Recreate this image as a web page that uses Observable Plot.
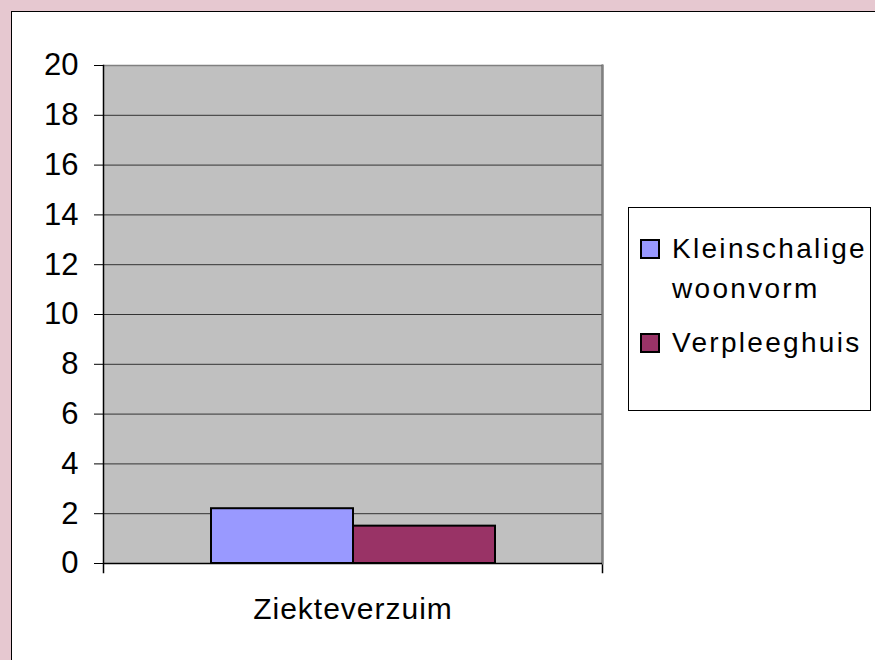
<!DOCTYPE html>
<html>
<head>
<meta charset="utf-8">
<script src="https://cdn.jsdelivr.net/npm/d3@7"></script>
<script src="https://cdn.jsdelivr.net/npm/@observablehq/plot@0.6"></script>
<style>
  html, body { margin: 0; padding: 0; }
  body { width: 875px; height: 660px; background: #E6C8D0; position: relative; overflow: hidden; font-family: "Liberation Sans", Arial, sans-serif; }
  #frame { position: absolute; left: 11px; top: 11px; width: 900px; height: 700px; background: #fff; border-left: 1px solid #000; border-top: 1px solid #000; }
  #chart { position: absolute; left: 0; top: 0; }
  #legend { position: absolute; left: 628px; top: 207px; width: 243px; height: 204px; box-sizing: border-box; border: 1px solid #000; background: #fff; }
  .item { position: absolute; left: 11px; display: flex; align-items: flex-start; }
  .sw { width: 16px; height: 16px; border: 2px solid #000; margin-top: 10px; margin-right: 12px; flex: none; }
  .lab { font-size: 28px; line-height: 40px; letter-spacing: 2.3px; color: #000; }
</style>
</head>
<body>
<div id="frame"></div>
<div id="chart"></div>
<div id="legend"></div>
<script>
const categories = ["Ziekteverzuim"];
const series = ["Kleinschalige woonvorm", "Verpleeghuis"];
const seriesLabels = [["Kleinschalige", "woonvorm"], ["Verpleeghuis"]];
const values = [2.2, 1.5];
const colors = ["#9999FF", "#993366"];
const yTicks = [0, 2, 4, 6, 8, 10, 12, 14, 16, 18, 20];

const data = series.map((s, i) => ({category: categories[0], series: s, value: values[i]}));
const font = '"Liberation Sans", Arial, sans-serif';

const plot = Plot.plot({
  width: 875,
  height: 660,
  marginLeft: 103,
  marginRight: 273,
  marginTop: 65,
  marginBottom: 97,
  style: {background: "transparent", fontFamily: font, fontSize: "31px", color: "#000", overflow: "visible"},
  fx: {domain: categories, padding: 0, label: null, axis: null},
  x: {domain: series, paddingInner: 0, paddingOuter: 0.745, axis: null},
  y: {domain: [0, 20], ticks: yTicks, label: null, axis: null},
  color: {domain: series, range: colors},
  marks: [
    Plot.frame({fill: "#C0C0C0", stroke: null}),
    Plot.ruleY(yTicks.filter(d => d > 0 && d < 20), {stroke: "#333", strokeWidth: 1}),
    Plot.ruleY([20], {stroke: "#808080", strokeWidth: 1.5}),
    Plot.frame({anchor: "right", stroke: "#000", strokeWidth: 1.5, insetBottom: -9}),
    Plot.frame({anchor: "right", stroke: "#808080", strokeWidth: 2}),
    Plot.frame({anchor: "left", stroke: "#000", strokeWidth: 1.5, insetBottom: -9}),
    Plot.axisY({ticks: yTicks, tickSize: 9, tickPadding: 16, tickFormat: d => String(d), fontSize: 31, label: null, stroke: "#000"}),
    Plot.axisFx({tickSize: 0, tickPadding: 34, fontSize: 30, label: null, anchor: "bottom"}),
    Plot.barY(data, {fx: "category", x: "series", y: "value", fill: "series", stroke: "#000", strokeWidth: 2}),
    Plot.ruleY([0], {stroke: "#000", strokeWidth: 1.5})
  ]
});
d3.select(plot).selectAll("g[aria-label='fx-axis tick label'] text").style("letter-spacing", "1px");
document.getElementById("chart").appendChild(plot);

const legend = d3.select("#legend");
const tops = [21, 115];
series.forEach((s, i) => {
  const item = legend.append("div").attr("class", "item").style("top", tops[i] + "px");
  item.append("div").attr("class", "sw").style("background", colors[i]);
  const lab = item.append("div").attr("class", "lab");
  seriesLabels[i].forEach(t => lab.append("div").text(t));
});
</script>
</body>
</html>
